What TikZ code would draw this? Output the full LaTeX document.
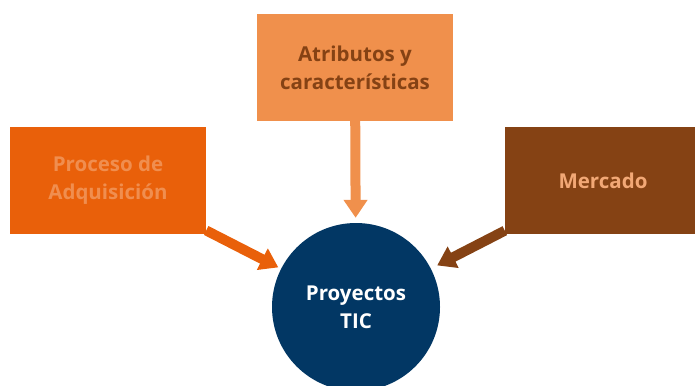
\documentclass[tikz,border=0pt]{standalone}
\usepackage{fontspec}
\setmainfont{Open Sans}
\usepackage{tikz}
\usetikzlibrary{arrows.meta,positioning,calc}
\definecolor{flame}{HTML}{E9600A}
\definecolor{flamelight}{HTML}{F08E4F}
\definecolor{apricot}{HTML}{F0904C}
\definecolor{rust}{HTML}{854214}
\definecolor{peach}{HTML}{F2A876}
\definecolor{navy}{HTML}{023764}
\newcommand{\topicbox}[5]{
  \node[fill=#3,minimum width=196pt,minimum height=107pt,inner sep=0pt,align=center,
        text=#4,font=\bfseries\fontsize{20.5}{28}\selectfont] (#1) at #2 {#5};
}

\begin{document}
\begin{tikzpicture}[x=1pt,y=-1pt,>=Latex,
  feed/.style={line width=10pt,-{Triangle[width=23pt,length=18pt]}}]
  \useasboundingbox (0,0) rectangle (695,385);
  \node[circle,fill=navy,minimum size=168pt,inner sep=0pt,align=center,text=white,
        font=\bfseries\fontsize{20.5}{28}\selectfont] (tic) at (356,307) {Proyectos\\TIC};
  \topicbox{adq}{(108,180.5)}{flame}{flamelight}{Proceso de\\Adquisición}
  \topicbox{atr}{(355,67.5)}{apricot}{rust}{Atributos y\\características}
  \topicbox{mer}{(603,180.5)}{rust}{peach}{Mercado}
  \draw[feed,flame,shorten >=3pt] (adq) -- (tic);
  \draw[feed,apricot,shorten >=5pt] (atr) -- (tic);
  \draw[feed,rust,shorten >=7pt] (mer) -- (tic);
\end{tikzpicture}
\end{document}
